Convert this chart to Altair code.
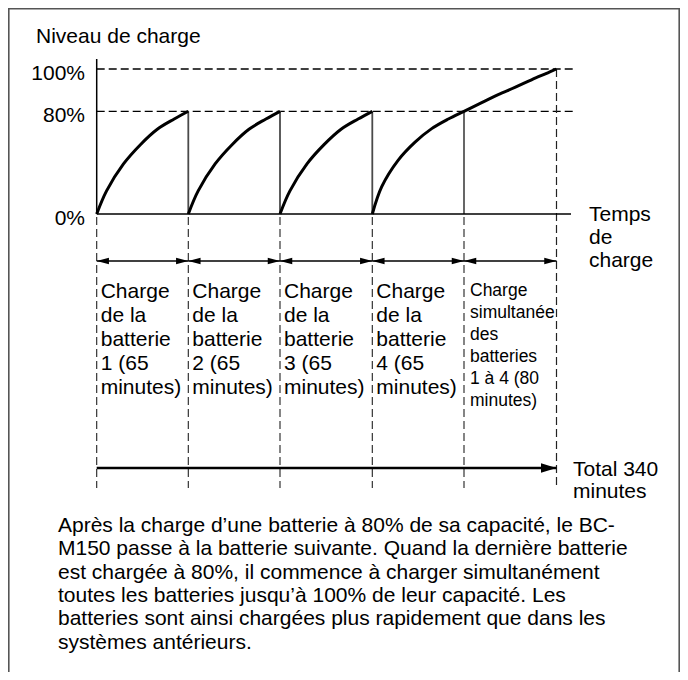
import altair as alt
import pandas as pd

# ---------------- data ----------------
boundaries = [0, 65, 130, 195, 260, 340]          # minutes at segment limits
levels = [0, 80, 100]                              # charge levels (%)
level_labels = ["0%", "80%", "100%"]

curve1_t = [0, 7, 19, 31, 43, 55, 65]
curve1_v = [0, 18, 39, 54, 66, 74, 80]
curve2_t = [65, 72, 84, 96, 108, 120, 130]
curve2_v = [0, 18, 39, 54, 66, 74, 80]
curve3_t = [130, 137, 149, 161, 173, 185, 195]
curve3_v = [0, 18, 39, 54, 66, 74, 80]
curve4_t = [195, 201.7, 213.4, 225.3, 237.1, 248.9, 260, 275.3, 289.6, 304, 318.4, 332.5, 340]
curve4_v = [0, 21.3, 42, 56, 66.5, 74, 80, 84.1, 87.9, 91.3, 94.9, 98.2, 100]

segment_labels = [
    "Charge\nde la\nbatterie\n1 (65\nminutes)",
    "Charge\nde la\nbatterie\n2 (65\nminutes)",
    "Charge\nde la\nbatterie\n3 (65\nminutes)",
    "Charge\nde la\nbatterie\n4 (65\nminutes)",
]
last_label = "Charge\nsimultanée\ndes\nbatteries\n1 à 4 (80\nminutes)"
y_title = "Niveau de charge"
x_title = "Temps\nde\ncharge"
total_label = "Total 340\nminutes"
paragraph = ("Après la charge d’une batterie à 80% de sa capacité, le BC-\n"
             "M150 passe à la batterie suivante. Quand la dernière batterie\n"
             "est chargée à 80%, il commence à charger simultanément\n"
             "toutes les batteries jusqu’à 100% de leur capacité. Les\n"
             "batteries sont ainsi chargées plus rapidement que dans les\n"
             "systèmes antérieurs.")

# ---------------- scales (schematic, piecewise) ----------------
FONT = "Liberation Sans"
xs = alt.Scale(domain=boundaries, range=[88.7, 180.3, 272, 364.3, 456, 548.5],
               nice=False, zero=False)
ys = alt.Scale(domain=levels, range=[206, 103.3, 61], nice=False, zero=False)

one = pd.DataFrame({"a": [0]})

def X(f):
    return alt.X(f, type="quantitative", scale=xs, axis=None)

def Y(f):
    return alt.Y(f, type="quantitative", scale=ys, axis=None)

# border
border = alt.Chart(one).mark_rect(fillOpacity=0, stroke="#555555", strokeWidth=1.6).encode(
    x=alt.value(0.8), y=alt.value(0.8), x2=alt.value(671.2), y2=alt.value(720))

# dashed horizontal guides at 80% and 100%
hdf = pd.DataFrame({"v": levels[1:], "x0": [boundaries[0]] * 2})
hguides = alt.Chart(hdf).mark_rule(color="black", strokeWidth=1.3, strokeDash=[8, 4]).encode(
    x=X("x0"), x2=alt.value(566), y=Y("v"))

# axes
axdf = pd.DataFrame({"x0": [boundaries[0]], "v": [levels[0]]})
xaxis = alt.Chart(axdf).mark_rule(color="black", strokeWidth=1.5).encode(
    x=X("x0"), x2=alt.value(563), y=Y("v"))
yaxis = alt.Chart(axdf).mark_rule(color="black", strokeWidth=1.5).encode(
    x=X("x0"), y=Y("v"), y2=alt.value(51))

# solid drops
drop_df = pd.DataFrame({"t": boundaries[1:4], "lo": [0] * 3, "hi": [80] * 3})
drops = alt.Chart(drop_df).mark_rule(color="#4a4a4a", strokeWidth=1.8).encode(
    x=X("t"), y=Y("lo"), y2="hi:Q")
drop4_df = pd.DataFrame({"t": [boundaries[4]], "lo": [0], "hi": [80]})
drop4 = alt.Chart(drop4_df).mark_rule(color="black", strokeWidth=1.2).encode(
    x=X("t"), y=Y("lo"), y2="hi:Q")

# dashed verticals below the axis
vdf = pd.DataFrame({"t": boundaries[:5]})
vdash = alt.Chart(vdf).mark_rule(color="#222222", strokeWidth=1.1, strokeDash=[8, 4]).encode(
    x=X("t"), y=alt.value(209), y2=alt.value(480))
vlast_df = pd.DataFrame({"t": [boundaries[5]], "v": [levels[2]]})
vlast = alt.Chart(vlast_df).mark_rule(color="#222222", strokeWidth=1.2, strokeDash=[8, 4]).encode(
    x=X("t"), y=Y("v"), y2=alt.value(480))

# charge curves
curves_df = pd.concat([
    pd.DataFrame({"t": curve1_t, "v": curve1_v, "seg": "1"}),
    pd.DataFrame({"t": curve2_t, "v": curve2_v, "seg": "2"}),
    pd.DataFrame({"t": curve3_t, "v": curve3_v, "seg": "3"}),
    pd.DataFrame({"t": curve4_t, "v": curve4_v, "seg": "4"}),
])
curves = alt.Chart(curves_df).mark_line(color="black", strokeWidth=3, interpolate="catmull-rom").encode(
    x=X("t"), y=Y("v"), detail="seg:N")

# double arrows per segment
seg_df = pd.DataFrame({"s": boundaries[:-1], "e": boundaries[1:]})
ARROW_R = "M0,0 L-2,-0.55 L-2,0.55 Z"
ARROW_L = "M0,0 L2,-0.55 L2,0.55 Z"
seg_lines = alt.Chart(seg_df).mark_rule(color="black", strokeWidth=1.4).encode(
    x=X("s"), x2="e:Q", y=alt.value(253))
heads_l = alt.Chart(seg_df).mark_point(shape=ARROW_L, filled=True, color="black", opacity=1,
                                       size=150, strokeWidth=0).encode(x=X("s"), y=alt.value(253))
heads_r = alt.Chart(seg_df).mark_point(shape=ARROW_R, filled=True, color="black", opacity=1,
                                       size=150, strokeWidth=0).encode(x=X("e"), y=alt.value(253))

# total arrow
tot_df = pd.DataFrame({"s": [boundaries[0]], "e": [boundaries[-1]]})
tot_line = alt.Chart(tot_df).mark_rule(color="black", strokeWidth=2.6).encode(
    x=X("s"), x2="e:Q", y=alt.value(460))
tot_head = alt.Chart(tot_df).mark_point(shape="M0,0 L-2,-0.6 L-2,0.6 Z", filled=True, color="black",
                                        opacity=1, size=240, strokeWidth=0).encode(
    x=X("e"), y=alt.value(460))

# texts
def T(**kw):
    base = dict(font=FONT, fontSize=21, color="black", align="left",
                baseline="alphabetic", lineBreak="\n")
    base.update(kw)
    return base

lab_df = pd.DataFrame({"t": boundaries[:4], "txt": segment_labels})
seg_text = alt.Chart(lab_df).mark_text(**T(dx=4, lineHeight=24)).encode(
    x=X("t"), y=alt.value(290), text="txt:N")
last_df = pd.DataFrame({"t": [boundaries[4]], "txt": [last_label]})
last_text = alt.Chart(last_df).mark_text(**T(fontSize=17.5, dx=6, lineHeight=22)).encode(
    x=X("t"), y=alt.value(288), text="txt:N")

tick_df = pd.DataFrame({"v": levels, "txt": level_labels})
tick_text = alt.Chart(tick_df).mark_text(**T(align="right", dy=11)).encode(
    x=alt.value(77), y=Y("v"), text="txt:N")

ytitle = alt.Chart(pd.DataFrame({"txt": [y_title]})).mark_text(**T()).encode(
    x=alt.value(28), y=alt.value(35), text="txt:N")
xtitle = alt.Chart(pd.DataFrame({"txt": [x_title]})).mark_text(**T(lineHeight=23.3)).encode(
    x=alt.value(581), y=alt.value(212.7), text="txt:N")
total_text = alt.Chart(pd.DataFrame({"txt": [total_label]})).mark_text(**T(lineHeight=22)).encode(
    x=alt.value(565), y=alt.value(468), text="txt:N")
para_text = alt.Chart(pd.DataFrame({"txt": [paragraph]})).mark_text(**T(lineHeight=23.3)).encode(
    x=alt.value(50), y=alt.value(524), text="txt:N")

chart = alt.layer(
    border, hguides, vdash, vlast, drops, drop4, xaxis, yaxis, curves,
    seg_lines, heads_l, heads_r, tot_line, tot_head,
    seg_text, last_text, tick_text, ytitle, xtitle, total_text, para_text,
).properties(
    width=672, height=664, padding=0,
    autosize=alt.AutoSizeParams(type="none"),
).configure_view(stroke=None).configure(background="white")

chart.save("out.html", embed_options={"renderer": "svg", "actions": False})
